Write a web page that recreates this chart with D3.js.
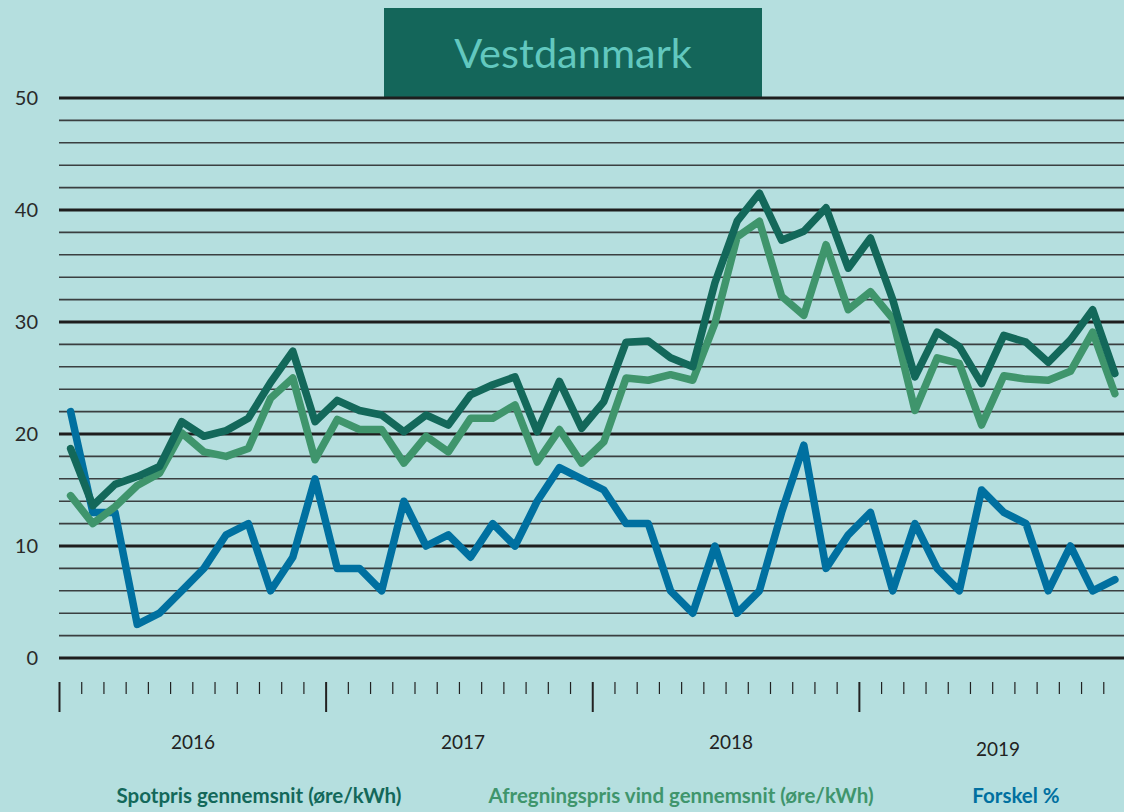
<!DOCTYPE html>
<html><head><meta charset="utf-8">
<script src="https://cdn.jsdelivr.net/npm/d3@7"></script>
<style>
html,body{margin:0;padding:0;background:#b5dfdf;}
svg{display:block;}
</style></head>
<body>
<svg id="chart" width="1124" height="812"></svg>
<script>
const years = ["2016","2017","2018","2019"];
const spotpris = [18.7,13.6,15.5,16.2,17.1,21.1,19.8,20.3,21.4,24.6,27.4,21.1,
  23.0,22.1,21.7,20.2,21.7,20.8,23.5,24.4,25.1,20.2,24.7,20.5,
  22.9,28.2,28.3,26.8,26.0,33.5,39.0,41.5,37.3,38.1,40.2,34.8,
  37.5,32.0,25.1,29.1,27.8,24.5,28.8,28.2,26.4,28.4,31.1,25.4];
const afregning = [14.5,12.0,13.5,15.4,16.5,20.1,18.4,18.0,18.7,23.2,25.0,17.7,
  21.3,20.4,20.4,17.4,19.8,18.4,21.4,21.4,22.6,17.5,20.4,17.4,
  19.3,25.0,24.8,25.3,24.8,29.9,37.6,39.0,32.3,30.6,36.9,31.1,
  32.7,30.3,22.1,26.8,26.3,20.8,25.2,24.9,24.8,25.6,29.1,23.6];
const forskel = [22,13,13,3,4,6,8,11,12,6,9,16,
  8,8,6,14,10,11,9,12,10,14,17,16,
  15,12,12,6,4,10,4,6,13,19,8,11,
  13,6,12,8,6,15,13,12,6,10,6,7];
const yTicks = [0,10,20,30,40,50];
const legendLabels = ["Spotpris gennemsnit (øre/kWh)","Afregningspris vind gennemsnit (øre/kWh)","Forskel %"];
const colors = ["#13685a","#3f956c","#0070a0"];

const svg = d3.select("#chart");
const x = d3.scaleLinear().domain([0,48]).range([59.5,1126]);
const y = d3.scaleLinear().domain([0,50]).range([658,98]);

// title box
svg.append("rect").attr("x",384).attr("y",8).attr("width",378).attr("height",89).attr("fill","#14665a");
svg.append("text").attr("x",573).attr("y",68).attr("text-anchor","middle")
  .attr("font-family","Lato, 'Open Sans', sans-serif").attr("font-size",41.5)
  .attr("fill","#62c8bf").text("Vestdanmark");

// grid
const grid = svg.append("g");
d3.range(0,51,2).forEach(v=>{
  const major = v%10===0;
  grid.append("line").attr("x1",59).attr("x2",1124)
    .attr("y1",y(v)).attr("y2",y(v))
    .attr("stroke", major?"#1e1e1e":"#3a3f40")
    .attr("stroke-width", major?3:1.6);
});
// y labels
svg.append("g").selectAll("text").data(yTicks).join("text")
  .attr("x",38).attr("y",d=>y(d)+7).attr("text-anchor","end")
  .attr("font-family","Lato, sans-serif").attr("font-size",20).attr("fill","#2a2a2a")
  .text(d=>d);

// x ticks
const xt = svg.append("g");
d3.range(0,48).forEach(k=>{
  const major = k%12===0;
  xt.append("line").attr("x1",x(k)).attr("x2",x(k))
    .attr("y1",682).attr("y2",major?712:694)
    .attr("stroke","#222").attr("stroke-width",major?2:1.2);
});
const yearPos = [[193,749],[463,749],[731,749],[998,756]];
svg.append("g").selectAll("text").data(years).join("text")
  .attr("x",(d,i)=>yearPos[i][0]).attr("y",(d,i)=>yearPos[i][1]).attr("text-anchor","middle")
  .attr("font-family","Lato, sans-serif").attr("font-size",19).attr("fill","#222")
  .text(d=>d);

// lines
const line = d3.line().x((d,i)=>x(i+0.5)).y(d=>y(d));
[[forskel,colors[2]],[afregning,colors[1]],[spotpris,colors[0]]].forEach(([data,c])=>{
  svg.append("path").datum(data).attr("d",line).attr("fill","none")
    .attr("stroke",c).attr("stroke-width",7.5).attr("stroke-linejoin","round").attr("stroke-linecap","round");
});

// legend
const legX = [259,681,1016];
svg.append("g").selectAll("text").data(legendLabels).join("text")
  .attr("x",(d,i)=>legX[i]).attr("y",803).attr("text-anchor","middle")
  .attr("font-family","Lato, sans-serif").attr("font-weight","bold").attr("font-size",20.5)
  .attr("fill",(d,i)=>colors[i]).text(d=>d);
</script>
</body></html>
